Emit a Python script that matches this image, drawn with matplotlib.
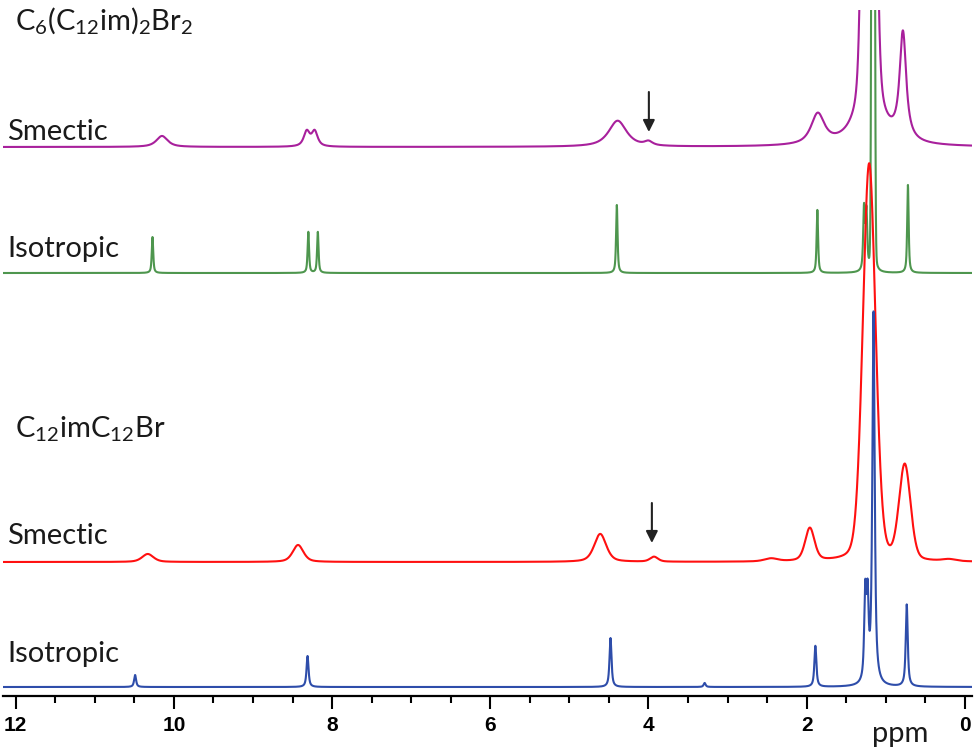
import numpy as np
import matplotlib
matplotlib.use("Agg")
import matplotlib.pyplot as plt
from matplotlib.ticker import MultipleLocator

# peak tables: position (ppm), height, FWHM (ppm), lorentz fraction
# C12imC12Br, isotropic (blue)
iso12_pos = [10.49, 8.31, 4.48, 3.29, 1.89, 1.26, 1.23, 1.155, 0.735]
iso12_h = [12, 31, 49, 4, 41, 86, 78, 372, 82]
iso12_w = [0.03, 0.03, 0.03, 0.03, 0.03, 0.03, 0.03, 0.035, 0.03]
iso12_eta = [0.8, 0.8, 0.8, 0.8, 0.8, 0.8, 0.8, 0.8, 0.8]

# C12imC12Br, smectic (red)
sm12_pos = [10.33, 8.43, 4.61, 3.93, 2.45, 1.96, 1.21, 0.76, 0.2]
sm12_h = [8, 17, 28, 5, 3, 33, 398, 95, 2]
sm12_w = [0.17, 0.16, 0.18, 0.12, 0.2, 0.14, 0.19, 0.17, 0.2]
sm12_eta = [0.5, 0.5, 0.5, 0.5, 0.5, 0.4, 0.2, 0.2, 0.5]

# C6(C12im)2Br2, isotropic (green)
iso6_pos = [10.27, 8.30, 8.18, 4.40, 1.865, 1.275, 1.245, 1.16, 0.72]
iso6_h = [36, 41, 41, 68, 63, 62, 58, 2000, 88]
iso6_w = [0.022, 0.022, 0.022, 0.022, 0.022, 0.025, 0.025, 0.03, 0.022]
iso6_eta = [0.7, 0.7, 0.7, 0.7, 0.7, 0.7, 0.7, 0.05, 0.7]

# C6(C12im)2Br2, smectic (magenta)
sm6_pos = [10.15, 8.32, 8.22, 4.39, 4.0, 1.86, 1.21, 1.21, 0.795, 0.772]
sm6_h = [11, 15, 15, 26, 4, 30, 1300, 180, 57, 57]
sm6_w = [0.17, 0.09, 0.09, 0.27, 0.12, 0.2, 0.12, 0.2, 0.09, 0.09]
sm6_eta = [0.8, 0.8, 0.8, 0.8, 0.8, 0.8, 0.0, 1.0, 1.0, 1.0]

# arrows marking the small 4 ppm signal
arrow_ppm = [3.995, 3.957]
arrow_top = [604, 193]
arrow_tip = [564, 153]

ppm = np.linspace(12.16, -0.09, 12000)


def spectrum(pos, h, w, eta):
    y = np.zeros_like(ppm)
    for p, a, fw, e in zip(pos, h, w, eta):
        d = ppm - p
        lor = 1.0 / (1.0 + (2 * d / fw) ** 2)
        gau = np.exp(-4 * np.log(2) * (d / fw) ** 2)
        y += a * (e * lor + (1 - e) * gau)
    return y


plt.rcParams['mathtext.fontset'] = 'custom'
plt.rcParams['mathtext.rm'] = 'Lato'

fig = plt.figure(figsize=(9.76, 7.5), dpi=100)
ax = fig.add_axes([3 / 976, 54 / 750, 969 / 976, 686 / 750])

ax.plot(ppm, 549 + spectrum(sm6_pos, sm6_h, sm6_w, sm6_eta), color='#A8209C', lw=1.5)
ax.plot(ppm, 423 + spectrum(iso6_pos, iso6_h, iso6_w, iso6_eta), color='#4E964E', lw=1.5)
ax.plot(ppm, 134 + spectrum(sm12_pos, sm12_h, sm12_w, sm12_eta), color='#FF1010', lw=1.5)
ax.plot(ppm, 9 + spectrum(iso12_pos, iso12_h, iso12_w, iso12_eta), color='#2E4DAA', lw=1.5)

for xp, yt, yb in zip(arrow_ppm, arrow_top, arrow_tip):
    ax.annotate("", xy=(xp, yb), xytext=(xp, yt),
                arrowprops=dict(arrowstyle='-|>,head_length=0.7,head_width=0.35',
                                color='#222222', lw=1.5, shrinkA=0, shrinkB=0))

ax.set_xlim(12.16, -0.09)
ax.set_ylim(0, 686)
ax.set_yticks([])
for s in ['top', 'left', 'right']:
    ax.spines[s].set_visible(False)
ax.spines['bottom'].set_linewidth(1.6)
ax.set_xticks(np.arange(0, 13, 2))
ax.xaxis.set_minor_locator(MultipleLocator(0.5))
ax.tick_params(axis='x', which='major', length=9.5, width=1.5, pad=5)
ax.tick_params(axis='x', which='minor', length=5, width=1.5)
for lab in ax.get_xticklabels():
    lab.set_fontfamily('Liberation Sans')
    lab.set_fontweight('bold')
    lab.set_fontsize(15)

# labels placed at pixel positions (left, baseline)
labels = [
    (15, 30, r'C$_\mathregular{6}$(C$_\mathregular{12}$im)$_\mathregular{2}$Br$_\mathregular{2}$'),
    (7, 140, 'Smectic'),
    (7, 257, 'Isotropic'),
    (15, 437, r'C$_\mathregular{12}$imC$_\mathregular{12}$Br'),
    (7, 544, 'Smectic'),
    (7, 662, 'Isotropic'),
]
for px, py, s in labels:
    fig.text(px / 976, 1 - py / 750, s, fontsize=21, family='Lato',
             color='#1a1a1a', va='baseline', ha='left')
fig.text(900 / 976, 1 - 742 / 750, 'ppm', fontsize=21, family='Lato',
         color='#1a1a1a', va='baseline', ha='center')

fig.savefig('out.png', dpi=100)
